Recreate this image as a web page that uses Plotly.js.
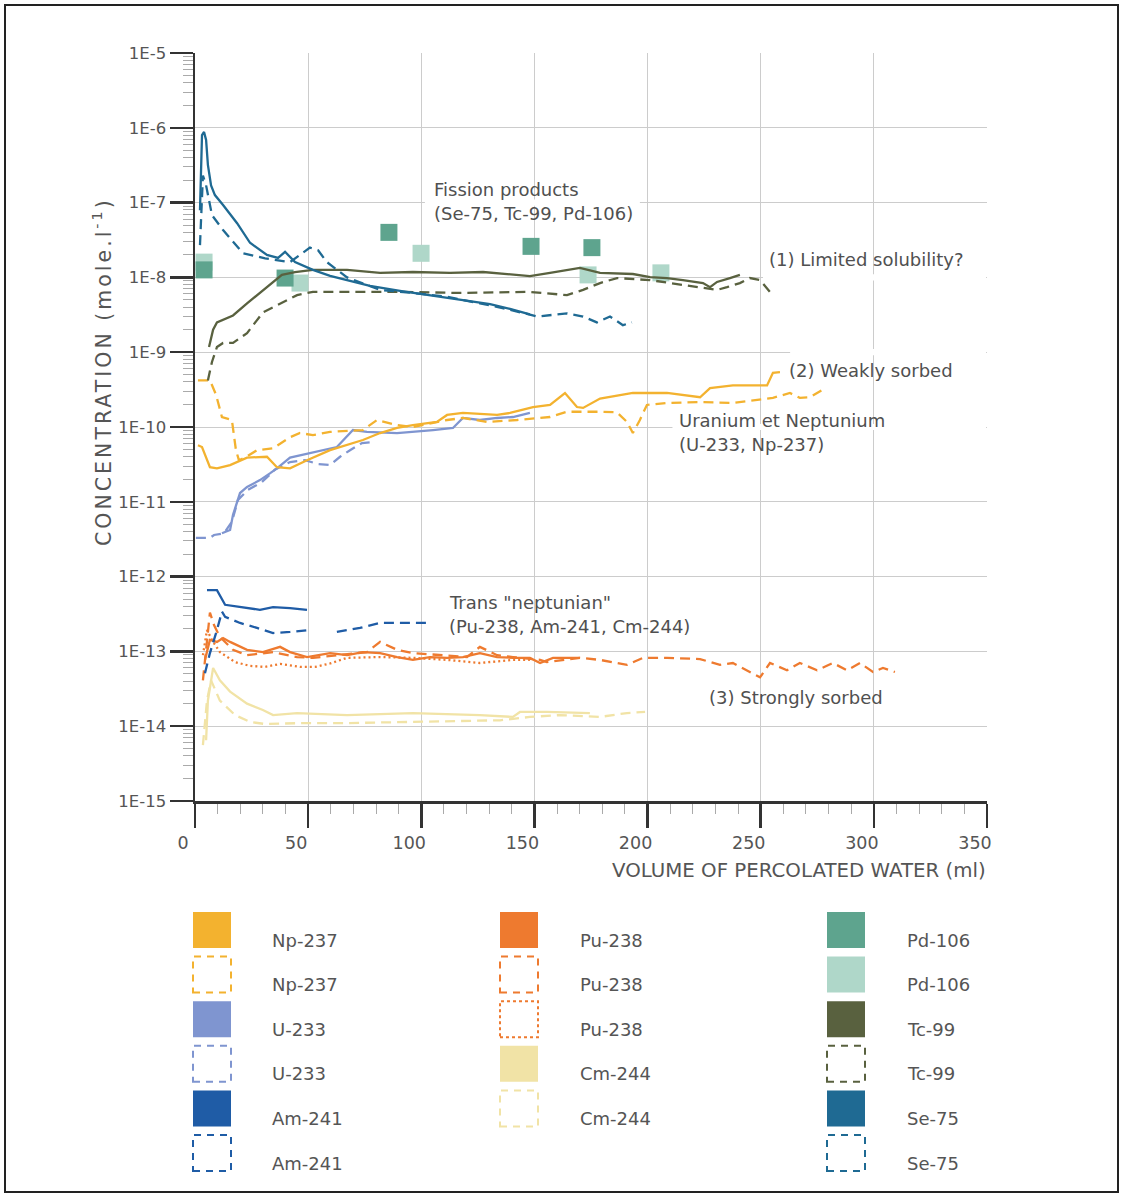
<!DOCTYPE html>
<html><head><meta charset="utf-8">
<script src="https://cdn.plot.ly/plotly-3.0.1.min.js"></script>
<style>
body{margin:0;background:#fff}
#frame{position:absolute;left:4px;top:4px;width:1111px;height:1185px;border:2px solid #222;pointer-events:none}
</style>
</head><body>
<div id="chart" style="position:absolute;left:0;top:0;width:1123px;height:1196px"></div>
<div id="frame"></div>
<script>
// ---------------- DATA ----------------
var xTickVals = [0, 50, 100, 150, 200, 250, 300, 350];
var yTickVals = [1e-15, 1e-14, 1e-13, 1e-12, 1e-11, 1e-10, 1e-9, 1e-8, 1e-7, 1e-6, 1e-5];
var yTickText = ['1E-15', '1E-14', '1E-13', '1E-12', '1E-11', '1E-10', '1E-9', '1E-8', '1E-7', '1E-6', '1E-5'];

// Se-75
var seSolidX = [2.2,3.1,4.0,4.9,5.7,7.1,8.8,12.4,18.6,24.3,31.8,36.7,39.8,44.2,52.1,59.7,68.5,77.3,90.6,103.8,117.1,130.4,139.2,148.0];
var seSolidY = [7.9e-8,8.0e-7,8.8e-7,6.9e-7,3.2e-7,1.7e-7,1.26e-7,9.3e-8,5.3e-8,2.9e-8,2.0e-8,1.82e-8,2.2e-8,1.6e-8,1.26e-8,1.05e-8,9.0e-9,7.7e-9,6.6e-9,5.8e-9,5.0e-9,4.4e-9,3.8e-9,3.2e-9];
var seDashX = [2.2,3.5,4.9,7.5,12.4,21.2,31.0,42.0,46.4,50.8,54.4,58.3,67.2,81.8,96.3,111.4,125.9,139.2,151.1,164.4,171.5,177.6,183.4,189.1,193.1];
var seDashY = [2.7e-8,2.3e-7,1.7e-7,6.8e-8,4.3e-8,2.1e-8,1.8e-8,1.6e-8,2.0e-8,2.5e-8,2.3e-8,1.6e-8,1.0e-8,6.8e-9,6.2e-9,5.5e-9,4.5e-9,3.7e-9,3.0e-9,3.3e-9,3.0e-9,2.5e-9,3.0e-9,2.3e-9,2.5e-9];

// Tc-99
var tcSolidX = [6.2,8.0,9.7,12.4,16.8,23.0,28.7,34.5,38.4,44.2,52.1,67.2,81.8,96.3,112.7,127.3,148.0,156.9,170.1,179.0,193.5,201.1,208.6,215.6,224.5,227.6,230.7,236.4,240.8];
var tcSolidY = [1.17e-9,2.0e-9,2.5e-9,2.7e-9,3.1e-9,4.5e-9,6.2e-9,8.7e-9,1.08e-8,1.18e-8,1.26e-8,1.26e-8,1.15e-8,1.18e-8,1.15e-8,1.18e-8,1.04e-8,1.15e-8,1.34e-8,1.15e-8,1.11e-8,1.01e-8,9.8e-9,9.2e-9,8.4e-9,7.4e-9,8.7e-9,9.8e-9,1.08e-8];
var tcDashX = [5.7,7.5,9.7,12.4,16.8,23.0,30.0,37.6,45.1,52.1,69.8,90.6,117.1,148.0,164.4,171.5,179.0,186.5,201.1,215.6,223.2,230.7,235.1,240.8,245.2,249.7,254.1];
var tcDashY = [4.2e-10,7.4e-10,1.17e-9,1.33e-9,1.33e-9,1.8e-9,3.4e-9,4.5e-9,5.8e-9,6.4e-9,6.4e-9,6.4e-9,6.2e-9,6.4e-9,5.8e-9,6.8e-9,8.4e-9,9.8e-9,9.2e-9,7.9e-9,7.4e-9,6.8e-9,7.4e-9,8.4e-9,9.8e-9,9.2e-9,6.4e-9];

// Pd-106 (two sets of squares)
var pdDarkX = [4.0, 39.8, 85.7, 148.5, 175.4];
var pdDarkY = [1.26e-8, 9.8e-9, 4.0e-8, 2.6e-8, 2.5e-8];
var pdLightX = [4.0, 46.4, 99.9, 173.7, 205.9];
var pdLightY = [1.6e-8, 8.4e-9, 2.1e-8, 1.08e-8, 1.15e-8];

// Np-237
var npSolidX = [1.3,3.1,6.6,9.7,15.5,23.0,31.8,36.2,42.0,49.5,59.7,67.2,74.2,81.8,89.3,96.3,106.9,111.4,118.4,133.5,139.2,149.4,156.9,163.5,168.8,171.5,179.0,193.5,208.6,223.2,227.6,237.7,252.8,255.4,258.5];
var npSolidY = [5.7e-11,5.4e-11,2.9e-11,2.8e-11,3.1e-11,3.9e-11,4.0e-11,2.9e-11,2.8e-11,3.6e-11,4.9e-11,5.7e-11,6.7e-11,8.3e-11,9.7e-11,1.06e-10,1.17e-10,1.45e-10,1.54e-10,1.45e-10,1.54e-10,1.85e-10,1.97e-10,2.85e-10,1.85e-10,1.8e-10,2.4e-10,2.85e-10,2.85e-10,2.5e-10,3.3e-10,3.6e-10,3.6e-10,5.3e-10,5.4e-10];
var npDashX = [1.3,6.6,9.3,11.9,16.3,18.1,19.4,22.1,27.4,34.5,42.0,46.4,52.1,59.7,74.2,80.4,89.3,96.3,111.4,118.4,129.0,142.3,156.9,164.4,179.0,186.5,190.9,193.5,196.6,199.7,208.6,223.2,237.7,249.7,255.4,262.9,267.3,271.8,278.4];
var npDashY = [4.2e-10,4.2e-10,2.7e-10,1.36e-10,1.24e-10,4.9e-11,3.6e-11,3.9e-11,4.9e-11,5.2e-11,7.3e-11,8.3e-11,7.8e-11,8.6e-11,9.1e-11,1.24e-10,1.06e-10,1.0e-10,1.24e-10,1.32e-10,1.17e-10,1.24e-10,1.36e-10,1.6e-10,1.6e-10,1.57e-10,1.17e-10,8.3e-11,1.24e-10,1.97e-10,2.1e-10,2.15e-10,2.1e-10,2.3e-10,2.45e-10,2.85e-10,2.45e-10,2.5e-10,3.3e-10];

// U-233
var uSolidX = [11.9,15.5,16.8,19.9,23.0,28.7,33.1,36.2,42.0,46.4,52.1,56.6,62.7,69.8,76.0,89.3,96.3,105.2,114.0,118.4,125.9,133.5,140.5,148.0];
var uSolidY = [3.8e-12,4.2e-12,6.7e-12,1.31e-11,1.58e-11,1.95e-11,2.4e-11,2.8e-11,3.9e-11,4.2e-11,4.6e-11,4.9e-11,5.4e-11,9.1e-11,8.6e-11,8.3e-11,8.6e-11,9.1e-11,9.7e-11,1.32e-10,1.24e-10,1.32e-10,1.36e-10,1.54e-10];
var uDashX = [0.4,6.6,8.4,12.8,16.3,19.0,23.4,29.6,35.4,42.0,48.6,54.4,59.7,64.1,68.5,73.8,79.5];
var uDashY = [3.3e-12,3.3e-12,3.6e-12,3.8e-12,5.4e-12,1.06e-11,1.44e-11,1.84e-11,2.7e-11,3.4e-11,3.6e-11,3.2e-11,3.1e-11,4.0e-11,4.9e-11,6.1e-11,6.3e-11];

// Am-241
var amSolidX = [5.3,9.7,13.3,23.0,28.7,34.5,42.0,49.5];
var amSolidY = [6.6e-13,6.6e-13,4.2e-13,3.8e-13,3.6e-13,3.9e-13,3.8e-13,3.6e-13];
var amDashX = [4.4,6.6,9.7,11.9,13.3,19.9,27.4,34.5,42.0,50.8,55.0,62.7,72.9,81.8,93.7,103.8];
var amDashY = [5.1e-14,9.5e-14,1.93e-13,3.4e-13,2.9e-13,2.4e-13,2.06e-13,1.76e-13,1.82e-13,1.93e-13,null,1.82e-13,2.06e-13,2.4e-13,2.4e-13,2.4e-13];

// Pu-238
var puSolidX = [4.4,6.6,9.7,12.4,15.5,23.0,30.0,37.6,42.0,49.5,59.7,67.2,74.2,81.8,89.3,96.3,103.8,111.4,118.4,125.9,133.5,140.5,148.0,152.5,158.2,170.1];
var puSolidY = [7.7e-14,1.42e-13,1.34e-13,1.51e-13,1.34e-13,1.05e-13,9.8e-14,1.15e-13,9.8e-14,8.4e-14,9.5e-14,8.9e-14,9.8e-14,9.5e-14,8.4e-14,7.7e-14,8.4e-14,8.2e-14,8.4e-14,9.5e-14,8.4e-14,8.2e-14,8.2e-14,7.0e-14,8.2e-14,8.2e-14];
var puDashX = [3.5,5.3,6.6,8.4,11.0,16.8,23.0,34.5,45.1,52.1,64.1,76.0,81.8,89.3,96.3,111.4,120.2,125.9,133.5,140.5,152.5,155.5,170.1,179.0,190.9,198.0,208.6,223.2,232.0,237.7,243.9,249.7,254.1,261.6,267.3,274.9,281.9,288.1,293.9,299.6,304.0,309.3];
var puDashY = [4.1e-14,1.42e-13,3.3e-13,2.25e-13,1.56e-13,1.05e-13,8.9e-14,9.8e-14,8.4e-14,8.2e-14,8.9e-14,9.8e-14,1.34e-13,1.05e-13,9.5e-14,8.9e-14,8.4e-14,1.15e-13,8.9e-14,8.4e-14,7.7e-14,7.2e-14,8.2e-14,7.7e-14,6.6e-14,8.2e-14,8.2e-14,7.9e-14,6.6e-14,7.0e-14,5.6e-14,4.5e-14,7.0e-14,5.6e-14,7.0e-14,5.6e-14,7.0e-14,5.6e-14,7.0e-14,5.3e-14,6.0e-14,5.3e-14];
var puDotX = [3.5,5.3,7.5,11.0,17.7,24.3,30.9,37.6,46.4,53.0,59.7,67.2,81.8,96.3,111.4,125.9,140.5,148.0];
var puDotY = [8.9e-14,1.93e-13,1.42e-13,9.8e-14,7.2e-14,6.4e-14,6.2e-14,6.8e-14,6.2e-14,6.2e-14,6.9e-14,8.2e-14,8.4e-14,8.2e-14,7.7e-14,7.0e-14,7.7e-14,7.7e-14];

// Cm-244
var cmSolidX = [4.9,5.7,8.0,11.0,15.5,23.0,30.0,34.5,45.1,67.2,96.3,125.9,140.5,143.6,155.5,174.5];
var cmSolidY = [6.5e-15,2.2e-14,6.0e-14,4.1e-14,2.9e-14,2.0e-14,1.65e-14,1.41e-14,1.5e-14,1.41e-14,1.5e-14,1.41e-14,1.33e-14,1.55e-14,1.55e-14,1.5e-14];
var cmDashX = [3.5,5.3,7.1,11.0,17.7,24.3,30.9,46.4,67.2,90.6,112.7,134.8,148.0,161.3,179.0,190.9,198.9];
var cmDashY = [5.6e-15,2.2e-14,4.1e-14,2.2e-14,1.41e-14,1.14e-14,1.07e-14,1.1e-14,1.1e-14,1.14e-14,1.17e-14,1.2e-14,1.33e-14,1.41e-14,1.33e-14,1.5e-14,1.55e-14];

// ---------------- STYLE ----------------
var FONT = 'DejaVu Sans, Liberation Sans, Arial, sans-serif';
var C = {
  np: '#F3B22F', u: '#7F95D0', am: '#1F5CA6', pu: '#EE7A2F', cm: '#F1E3A6',
  pdDark: '#5EA48E', pdLight: '#AFD7C9', tc: '#59613F', se: '#1F6A93'
};

// each entry: series -> trace + legend swatch (col,row)
var series = [
  {name:'Cm-244', x:cmDashX, y:cmDashY, color:C.cm, style:'dash', col:1, row:4},
  {name:'Cm-244', x:cmSolidX, y:cmSolidY, color:C.cm, style:'solid', col:1, row:3},
  {name:'Pu-238', x:puDotX, y:puDotY, color:C.pu, style:'dot', col:1, row:2},
  {name:'Pu-238', x:puDashX, y:puDashY, color:C.pu, style:'dash', col:1, row:1},
  {name:'Pu-238', x:puSolidX, y:puSolidY, color:C.pu, style:'solid', col:1, row:0},
  {name:'Am-241', x:amDashX, y:amDashY, color:C.am, style:'dash', col:0, row:5},
  {name:'Am-241', x:amSolidX, y:amSolidY, color:C.am, style:'solid', col:0, row:4},
  {name:'U-233', x:uDashX, y:uDashY, color:C.u, style:'dash', col:0, row:3},
  {name:'U-233', x:uSolidX, y:uSolidY, color:C.u, style:'solid', col:0, row:2},
  {name:'Np-237', x:npDashX, y:npDashY, color:C.np, style:'dash', col:0, row:1},
  {name:'Np-237', x:npSolidX, y:npSolidY, color:C.np, style:'solid', col:0, row:0},
  {name:'Pd-106', x:pdLightX, y:pdLightY, color:C.pdLight, style:'marker', col:2, row:1},
  {name:'Pd-106', x:pdDarkX, y:pdDarkY, color:C.pdDark, style:'marker', col:2, row:0},
  {name:'Tc-99', x:tcDashX, y:tcDashY, color:C.tc, style:'dash', col:2, row:3},
  {name:'Tc-99', x:tcSolidX, y:tcSolidY, color:C.tc, style:'solid', col:2, row:2},
  {name:'Se-75', x:seDashX, y:seDashY, color:C.se, style:'dash', col:2, row:5},
  {name:'Se-75', x:seSolidX, y:seSolidY, color:C.se, style:'solid', col:2, row:4}
];

var dashMap = {solid:'solid', dash:'10px,6px', dot:'2px,3px'};
var traces = [];
// markers first so that lines are drawn on top
series.filter(function(s){return s.style==='marker';}).forEach(function(s){
  traces.push({type:'scatter', mode:'markers', x:s.x, y:s.y, name:s.name,
    marker:{symbol:'square', size:17, color:s.color, line:{width:0}}, hoverinfo:'x+y+name'});
});
series.filter(function(s){return s.style!=='marker';}).forEach(function(s){
  traces.push({type:'scatter', mode:'lines', x:s.x, y:s.y, name:s.name,
    line:{color:s.color, width:2.3, dash:dashMap[s.style]}, connectgaps:false});
});

// pixel -> paper helpers (plot area: x 195..987, y 53..801)
var L = 195, R = 987, T = 53, B = 801;
function PX(p){ return (p - L) / (R - L); }
function PY(p){ return (B - p) / (B - T); }

var shapes = [];
var annotations = [];

// legend (three columns)
var legCols = [{sx:193, lx:270}, {sx:500, lx:578}, {sx:827, lx:905}];
series.forEach(function(s){
  var c = legCols[s.col];
  var top = 912 + s.row * 44.6;
  var sh = {type:'rect', xref:'paper', yref:'paper', x0:PX(c.sx), x1:PX(c.sx+38), y0:PY(top+36), y1:PY(top), layer:'above'};
  if (s.style === 'solid' || s.style === 'marker') {
    sh.fillcolor = s.color; sh.line = {width:0};
  } else {
    sh.fillcolor = 'rgba(0,0,0,0)';
    sh.line = {color:s.color, width:2, dash: s.style === 'dot' ? 'dot' : '7px,6px'};
  }
  shapes.push(sh);
  annotations.push({xref:'paper', yref:'paper', x:PX(c.lx), y:PY(top+28), xanchor:'left', yanchor:'middle',
    text:s.name, showarrow:false, font:{family:FONT, size:18, color:'#555'}});
});

// white strips hiding gridlines behind text labels (data coords, between grid and traces)
var gapStrips = [[101.6, 196.6, 1e-7], [251, 349.6, 1e-8], [263, 349.6, 1e-9], [211, 349.6, 1e-10]];
gapStrips.forEach(function(g){
  shapes.push({type:'rect', xref:'x', yref:'y', x0:g[0], x1:g[1], y0:g[2]/1.1, y1:g[2]*1.1,
    fillcolor:'#ffffff', line:{width:0}, layer:'between'});
});

// text labels inside the plot
var labels = [
  ['Fission products', 432, 190], ['(Se-75, Tc-99, Pd-106)', 432, 214],
  ['(1) Limited solubility?', 767, 259], ['(2) Weakly sorbed', 787, 370],
  ['Uranium et Neptunium', 677, 420], ['(U-233, Np-237)', 677, 444],
  ['Trans "neptunian"', 447, 602], ['(Pu-238, Am-241, Cm-244)', 447, 626],
  ['(3) Strongly sorbed', 707, 697]
];
labels.forEach(function(l){
  annotations.push({xref:'paper', yref:'paper', x:PX(l[1]), y:PY(l[2]), xanchor:'left', yanchor:'middle',
    text:l[0], showarrow:false, font:{family:FONT, size:18, color:'#505050'}});
});

// axis titles
annotations.push({xref:'paper', yref:'paper', x:PX(988), y:PY(870), xanchor:'right', yanchor:'middle',
  text:'VOLUME OF PERCOLATED WATER (ml)', showarrow:false, font:{family:FONT, size:19.8, color:'#555'}});
annotations.push({xref:'paper', yref:'paper', x:PX(102), y:PY(372), xanchor:'center', yanchor:'middle', textangle:-90,
  text:'<span style="letter-spacing:3px">CONCENTRATION (mole.l<sup>-1</sup>)</span>', showarrow:false,
  font:{family:FONT, size:20.5, color:'#555'}});

var layout = {
  width:1123, height:1196,
  margin:{l:L, r:1123-R, t:T, b:1196-B, pad:0},
  paper_bgcolor:'#ffffff', plot_bgcolor:'#ffffff',
  showlegend:false,
  xaxis:{range:[0,350], tickmode:'array', tickvals:xTickVals, ticks:'outside', ticklen:24, tickwidth:2.5, tickcolor:'#333',
    showline:true, linecolor:'#333', linewidth:2.5, showgrid:true, gridcolor:'#cccccc', gridwidth:1, zeroline:false,
    ticklabelshift:-12, tickfont:{family:FONT, size:17.5, color:'#555'},
    minor:{dtick:10, tick0:0, ticks:'outside', ticklen:10, tickcolor:'#aaa', tickwidth:1, showgrid:false}},
  yaxis:{type:'log', range:[-15,-5], tickmode:'array', tickvals:yTickVals, ticktext:yTickText, ticks:'outside', ticklen:23, tickwidth:2.5, tickcolor:'#333',
    showline:true, linecolor:'#333', linewidth:2.5, showgrid:true, gridcolor:'#cccccc', gridwidth:1, zeroline:false,
    ticklabelstandoff:0, tickfont:{family:FONT, size:16.5, color:'#555'},
    minor:{dtick:'D1', ticks:'outside', ticklen:10, tickcolor:'#aaa', tickwidth:1, showgrid:false}},
  shapes:shapes,
  annotations:annotations
};

Plotly.newPlot('chart', traces, layout, {staticPlot:true, displayModeBar:false});
</script>
</body></html>
